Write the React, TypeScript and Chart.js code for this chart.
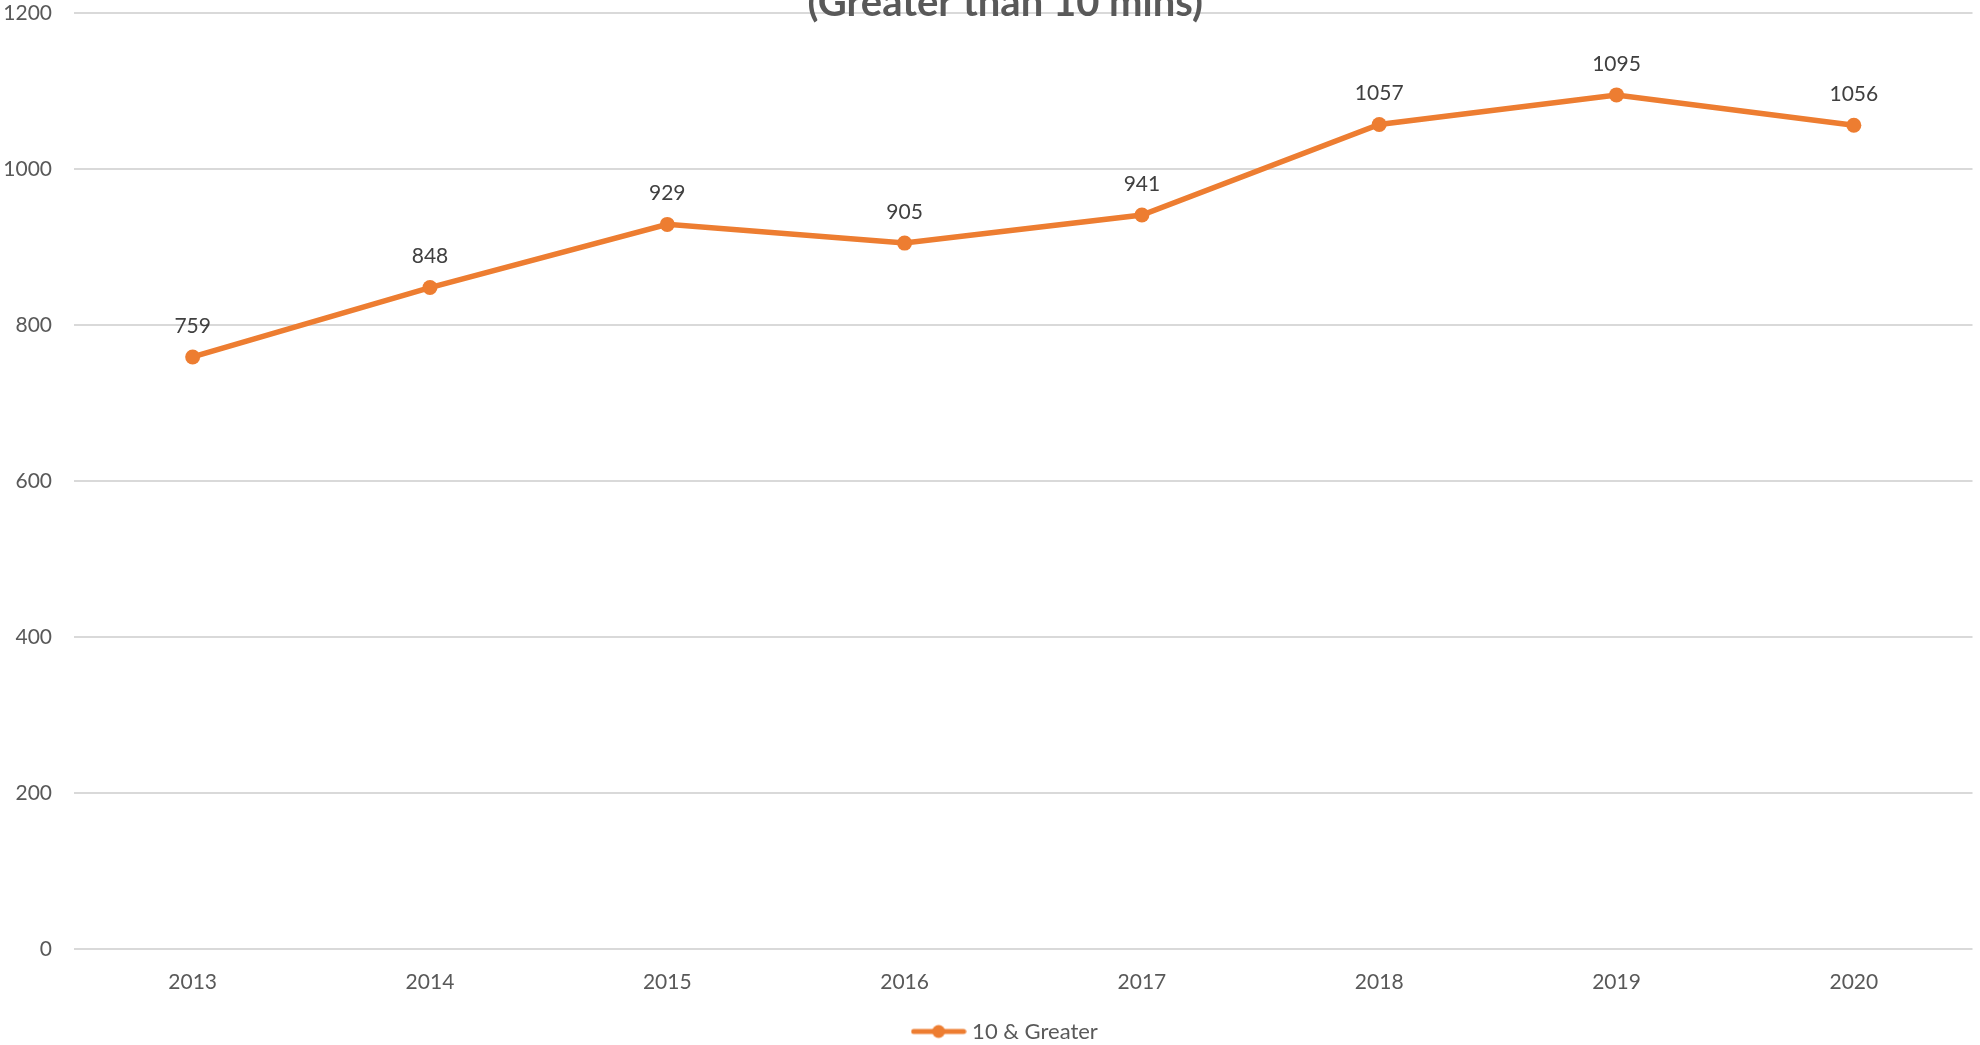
import React, { useEffect, useRef } from "react";
import { Chart, registerables } from "chart.js";

Chart.register(...registerables);

const years = ["2013", "2014", "2015", "2016", "2017", "2018", "2019", "2020"];
const greaterThan10 = [759, 848, 929, 905, 941, 1057, 1095, 1056];
const seriesLabel = "10 & Greater";
const titleText = "(Greater than 10 mins)";
const yMin = 0;
const yMax = 1200;
const yStep = 200;

const ORANGE = "#ED7D31";
const FONT = "Lato, 'Open Sans', sans-serif";

function makeLegendSymbol(): HTMLCanvasElement {
  const c = document.createElement("canvas");
  c.width = 56;
  c.height = 16;
  const ctx = c.getContext("2d")!;
  ctx.strokeStyle = ORANGE;
  ctx.lineWidth = 5;
  ctx.lineCap = "round";
  ctx.beginPath();
  ctx.moveTo(3, 8);
  ctx.lineTo(53, 8);
  ctx.stroke();
  ctx.fillStyle = ORANGE;
  ctx.beginPath();
  ctx.arc(28, 8, 6.5, 0, Math.PI * 2);
  ctx.fill();
  return c;
}

const dataLabelPlugin = {
  id: "dataLabels",
  afterDatasetsDraw(chart: any) {
    const ctx = chart.ctx;
    chart.data.datasets.forEach((ds: any, i: number) => {
      const meta = chart.getDatasetMeta(i);
      ctx.save();
      ctx.font = `21px ${FONT}`;
      ctx.fillStyle = "#404040";
      ctx.textAlign = "center";
      ctx.textBaseline = "middle";
      meta.data.forEach((pt: any, j: number) => {
        ctx.fillText(String(ds.data[j]), pt.x, pt.y - 31);
      });
      ctx.restore();
    });
  },
};

const titlePlugin = {
  id: "cutTitle",
  afterDraw(chart: any) {
    const ctx = chart.ctx;
    const area = chart.chartArea;
    ctx.save();
    ctx.font = `bold 40px ${FONT}`;
    ctx.fillStyle = "#595959";
    ctx.textAlign = "center";
    ctx.textBaseline = "alphabetic";
    ctx.fillText(titleText, (area.left + area.right) / 2 - 18, area.top + 3);
    ctx.restore();
  },
};

const legendShiftPlugin = {
  id: "legendShift",
  afterLayout(chart: any) {
    if (chart.legend) {
      chart.legend.left = chart.legend.left + 36;
    }
  },
};

export default function App() {
  const ref = useRef<HTMLCanvasElement>(null);

  useEffect(() => {
    if (!ref.current) return;
    const symbol = makeLegendSymbol();
    const chart = new Chart(ref.current, {
      type: "line",
      data: {
        labels: years,
        datasets: [
          {
            label: seriesLabel,
            data: greaterThan10,
            borderColor: ORANGE,
            backgroundColor: ORANGE,
            borderWidth: 5.5,
            pointRadius: 7.5,
            pointBackgroundColor: ORANGE,
            pointBorderColor: ORANGE,
            pointBorderWidth: 0,
            tension: 0,
            fill: false,
          },
        ],
      },
      options: {
        animation: false,
        responsive: false,
        devicePixelRatio: 1,
        layout: { padding: { top: 13, right: 2, left: 0, bottom: -7.5 } },
        plugins: {
          title: { display: false },
          tooltip: { enabled: false },
          legend: {
            display: true,
            position: "bottom",
            labels: {
              usePointStyle: true,
              pointStyle: symbol as any,
              pointStyleWidth: 45,
              padding: 2.5,
              color: "#595959",
              font: { family: FONT, size: 22 },
            },
          },
        },
        scales: {
          x: {
            offset: true,
            grid: { display: false, drawTicks: false },
            border: { display: false },
            ticks: {
              color: "#595959",
              font: { family: FONT, size: 21 },
              padding: 21,
              maxRotation: 0,
            },
            afterFit: (scale: any) => {
              scale.height = 69;
              scale.paddingLeft = 0;
              scale.paddingRight = 0;
            },
          },
          y: {
            min: yMin,
            max: yMax,
            grid: { color: "#d9d9d9", lineWidth: 2, drawTicks: false },
            border: { display: false },
            ticks: {
              stepSize: yStep,
              color: "#595959",
              font: { family: FONT, size: 21 },
              padding: 22,
              callback: (v: any) => String(v),
            },
            afterFit: (scale: any) => {
              scale.width = 74;
              scale.paddingTop = 0;
              scale.paddingBottom = 0;
            },
          },
        },
      },
      plugins: [dataLabelPlugin, titlePlugin, legendShiftPlugin],
    });
    return () => chart.destroy();
  }, []);

  return (
    <div style={{ position: "absolute", left: 0, top: 0, width: 1980, height: 1045, background: "#fff" }}>
      <canvas ref={ref} width={1980} height={1045} style={{ width: 1980, height: 1045, display: "block" }} />
    </div>
  );
}
